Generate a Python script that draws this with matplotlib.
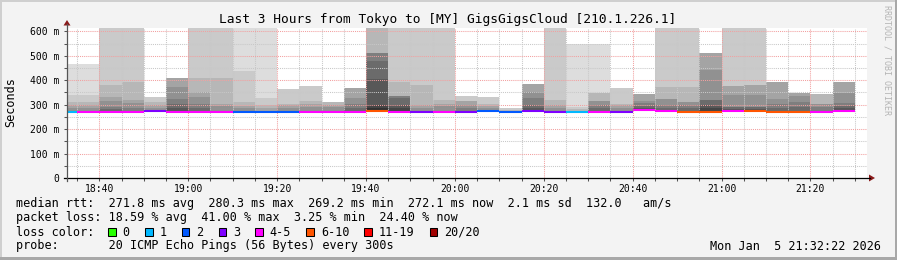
import matplotlib
matplotlib.use("Agg")
import matplotlib.pyplot as plt
from matplotlib.patches import Rectangle, Polygon
import numpy as np

nan = float("nan")

# 5 minute bins (start time of each bin)
bin_times = ["18:30", "18:35", "18:40", "18:45", "18:50", "18:55",
             "19:00", "19:05", "19:10", "19:15", "19:20", "19:25",
             "19:30", "19:35", "19:40", "19:45", "19:50", "19:55",
             "20:00", "20:05", "20:10", "20:15", "20:20", "20:25",
             "20:30", "20:35", "20:40", "20:45", "20:50", "20:55",
             "21:00", "21:05", "21:10", "21:15", "21:20", "21:25"]

# median rtt per bin (ms)
median_rtt = [271.5, 271.5, 271.5, 271.5, 273, 271.5,
              271.5, 271.5, 271.5, 271.5, 271.5, 271.5,
              271.5, 271.5, 275, 271.5, 271.5, 271.5,
              271.5, 273, 270, 273, 271.5, 271.5,
              271.5, 271.5, 280, 275, 270.5, 270.5,
              275, 272.5, 270.5, 270.5, 271.5, 272]

# lost pings (of 20) per bin
lost_pings = [1, 4, 5, 4, 3, 5, 5, 4, 2, 2, 2, 4,
              4, 5, 7, 4, 3, 4, 3, 2, 2, 3, 3, 1,
              4, 3, 5, 4, 6, 8, 5, 6, 7, 6, 5, 5]

# upper edges of the smoke bands, outermost first (ms); nan = no band
smoke_tops = [
    [466, 339, 310, 297, 288],
    [466, 339, 310, 300, 288],
    [720, 660, 380, 330, 315, 290, 282],
    [720, 660, 394, 320, 305, 288],
    [nan, 331, 310, 297, 288],
    [nan, nan, nan, 410, 372, 323, 302, 285],
    [720, 660, 410, 350, 331, 302, 288],
    [720, 660, 410, 302, 293],
    [700, 439, 310, 293, 285],
    [700, 328, 297, 288],
    [nan, 365, 303, 297, 288],
    [nan, 376, 313, 302, 290, nan, nan, nan, nan, 276],
    [nan, nan, 311, 300, 290],
    [nan, nan, nan, 368, 329, 302, 288],
    [nan, nan, 720, nan, nan, 511, 480, 405, 298, 285],
    [720, 660, 394, nan, nan, 337, 329, 300, 288],
    [720, 660, 380, 297, 288],
    [720, 660, 319, 302, 293],
    [nan, 335, nan, 315, 297, 285],
    [nan, 331, 302, 293, 285],
    [nan, 285, 280],
    [nan, nan, nan, 384, 352, 329, 297, 285, 278],
    [720, 660, 319, 297, 288],
    [548, 290, 281],
    [548, nan, 348, nan, 315, 297, 285],
    [nan, 368, 304, 297, 288],
    [nan, nan, nan, 345, 315, 305, 293, 287],
    [720, 660, 372, nan, 323, 297, 285],
    [720, 660, 372, nan, 310, 297, 285],
    [nan, nan, nan, 511, 442, nan, 318, 300, 285],
    [720, 660, nan, 375, 339, nan, 292, 284],
    [720, 660, nan, 382, 339, nan, 292, 283],
    [nan, nan, nan, 393, 323, 302, 288],
    [nan, nan, nan, 348, 335, 310, 290],
    [nan, nan, 345, nan, 302, 290],
    [nan, nan, nan, 393, 348, 305, 293, 285],
]

x_labels = ["18:40", "19:00", "19:20", "19:40", "20:00",
            "20:20", "20:40", "21:00", "21:20"]
y_ticks = [0, 100, 200, 300, 400, 500, 600]

loss_labels = ["0", "1", "2", "3", "4-5", "6-10", "11-19", "20/20"]
loss_colors = ["#26ff00", "#00b8ff", "#0059ff", "#7e00ff",
               "#ff00ff", "#ff5500", "#ff0000", "#a10000"]
loss_limits = [0, 1, 2, 3, 5, 10, 19, 20]

title = "Last 3 Hours from Tokyo to [MY] GigsGigsCloud [210.1.226.1]"
stat_lines = [
    "median rtt:  271.8 ms avg  280.3 ms max  269.2 ms min  272.1 ms now  2.1 ms sd  132.0   am/s",
    "packet loss: 18.59 % avg  41.00 % max  3.25 % min  24.40 % now",
]
probe_line = "probe:       20 ICMP Echo Pings (56 Bytes) every 300s"
stamp = "Mon Jan  5 21:32:22 2026"


def minutes(t):
    h, m = t.split(":")
    return (int(h) - 18) * 60 + int(m) - 40


W, H = 897, 260
MONO = "DejaVu Sans Mono"

fig = plt.figure(figsize=(W / 100, H / 100), dpi=100)
fig.patch.set_facecolor("#f3f3f3")

ax = fig.add_axes([67 / W, (H - 178) / H, 800 / W, 150 / H])
ax.set_facecolor("white")
ax.set_xlim(-7.27, 172.73)
ax.set_ylim(0, 613.5)

# smokeping gray shades, outermost band lightest
grays = []
for i in range(1, 11):
    c = int(190 / 10 * (10 - i)) + 50
    grays.append("#%02x%02x%02x" % (c, c, c))

for k, t in enumerate(bin_times):
    x0 = minutes(t)
    med = median_rtt[k]
    for j, top in enumerate(smoke_tops[k]):
        if np.isnan(top):
            continue
        ax.bar(x0, top - med, bottom=med, width=5, align="edge",
               color=grays[j], linewidth=0, zorder=1)
    lost = lost_pings[k]
    ci = next(i for i, lim in enumerate(loss_limits) if lost <= lim)
    ax.hlines(med, x0, x0 + 5, color=loss_colors[ci], linewidth=1.5,
              zorder=3, capstyle="butt")

# grid
major_x = [minutes(l) for l in x_labels]
minor_x = [m for m in range(-5, 171, 5) if m not in major_x]
ax.set_xticks(major_x)
ax.set_xticklabels(x_labels)
ax.set_xticks(minor_x, minor=True)
ax.set_yticks(y_ticks)
ax.set_yticklabels(["0"] + ["%d m" % v for v in y_ticks[1:]])
ax.set_yticks([v + 50 for v in y_ticks[:-1]], minor=True)
ax.set_axisbelow(False)
ax.grid(which="major", color="#f2a0a0", linestyle=(0, (1, 1)), linewidth=0.75)
ax.grid(which="minor", color="#c8c8c8", linestyle=(0, (1, 1)), linewidth=0.75)
for s in ax.spines.values():
    s.set_visible(False)
ax.tick_params(which="both", direction="out", length=2, width=0.75,
               color="#555555")
ax.tick_params(axis="x", which="major", pad=2.2, labelsize=7)
ax.tick_params(axis="y", which="major", pad=3.6, labelsize=7)
for lbl in ax.get_xticklabels() + ax.get_yticklabels():
    lbl.set_family(MONO)

# overlay in pixel coordinates
ov = fig.add_axes([0, 0, 1, 1], zorder=5)
ov.set_xlim(0, W)
ov.set_ylim(H, 0)
ov.axis("off")
ov.patch.set_alpha(0)

# axes lines and arrows
ov.plot([64, 870], [178, 178], color="black", linewidth=0.9)
ov.plot([67, 67], [181, 24], color="#555555", linewidth=0.9)
ov.add_patch(Polygon([[869, 174.5], [869, 181.5], [875, 178]],
                     closed=True, color="#8b1a1a", linewidth=0))
ov.add_patch(Polygon([[63.5, 25.5], [70.5, 25.5], [67, 20]],
                     closed=True, color="#8b1a1a", linewidth=0))

# frame
ov.add_patch(Rectangle((0, 0), W, 2, color="#cfcfcf", linewidth=0))
ov.add_patch(Rectangle((0, 0), 2, H, color="#cfcfcf", linewidth=0))
ov.add_patch(Rectangle((0, H - 3), W, 3, color="#a8a8a8", linewidth=0))
ov.add_patch(Rectangle((W - 2, 0), 2, H, color="#a8a8a8", linewidth=0))

# texts
ov.text(448, 19, title, ha="center", va="center", family=MONO, fontsize=9.25)
ov.text(10.5, 102.5, "Seconds", ha="center", va="center", rotation=90,
        family=MONO, fontsize=8.5)
ov.text(887, 60, "RRDTOOL / TOBI OETIKER", ha="center", va="center",
        rotation=270, family=MONO, fontsize=6, color="#b4b4b4")

ov.text(16, 204, stat_lines[0], ha="left", va="center", family=MONO, fontsize=8.5)
ov.text(16, 218, stat_lines[1], ha="left", va="center", family=MONO, fontsize=8.5)
ov.text(16, 232, "loss color:", ha="left", va="center", family=MONO, fontsize=8.5)
ov.text(16, 246, probe_line, ha="left", va="center", family=MONO, fontsize=8.5)
ov.text(881, 246, stamp, ha="right", va="center", family=MONO, fontsize=8.5)

cw = 7.09
x = 108.3
for lab, col in zip(loss_labels, loss_colors):
    ov.add_patch(Rectangle((x, 228.3), 7.5, 7.5, facecolor=col,
                           edgecolor="black", linewidth=0.75))
    ov.text(x + 14.4, 232, lab, ha="left", va="center", family=MONO, fontsize=8.5)
    x = x + 14.4 + len(lab) * cw + 15.3

fig.savefig("out.png", dpi=100, facecolor=fig.get_facecolor())
